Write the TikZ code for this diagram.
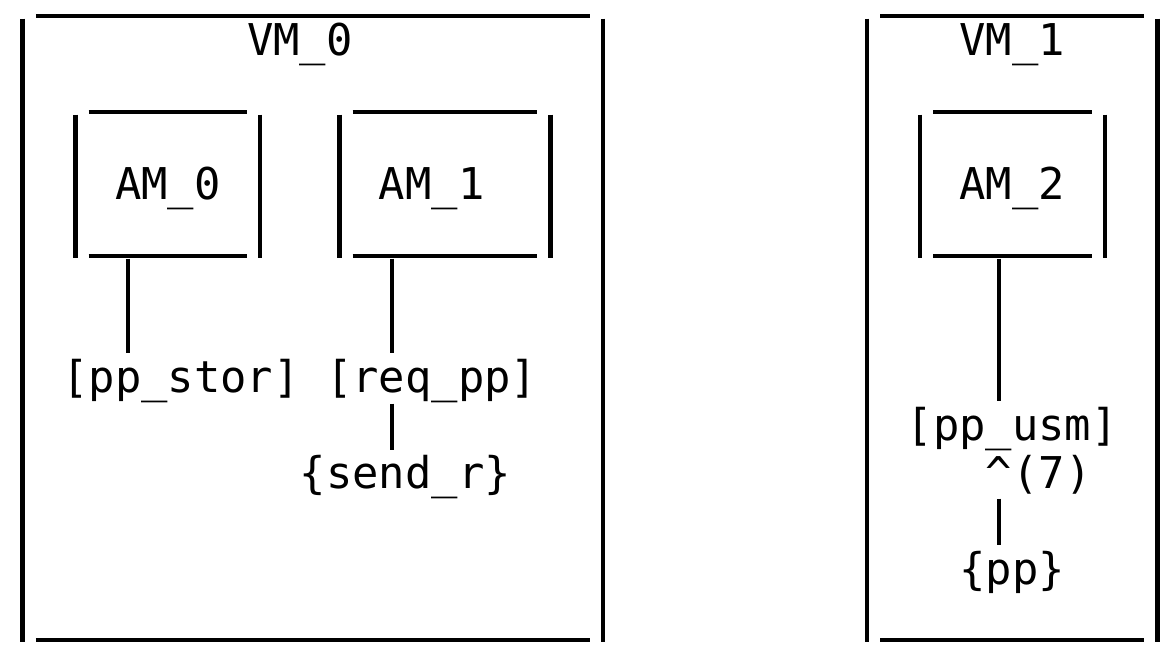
\documentclass[tikz,border=0pt]{standalone}
\usepackage{fontspec}
\newfontfamily\asciifont{DejaVu Sans Mono}
\begin{document}
% Grid: one unit in x is one character cell, one unit in y is one text row.
\begin{tikzpicture}[x=26.39pt, y=-48pt,
  cell/.style={anchor=west, inner sep=0pt, outer sep=0pt,
    font=\asciifont\fontsize{43.8pt}{48pt}\selectfont,
    text height=37.3pt, text depth=10.7pt},
  framebox/.style={rectangle, draw=none, inner sep=0pt, outer sep=0pt},
  hbar/.style={line width=4.2pt, black},
  vbar/.style={line width=4.4pt, black},
  wire/.style={line width=4.2pt, black}]

\useasboundingbox (-22.7pt,18.7pt) rectangle (1146.3pt,-628.3pt);

% ASCII-style frame: name, left column, right column, first row, row after last
\newcommand\asciiframe[5]{%
  \node[framebox, minimum width={(#3-#2)*26.39pt}, minimum height={(#5-#4)*48pt}]
    (#1) at ({(#2+#3)/2},{(#4+#5)/2}) {};
  \draw[hbar] ([shift={(13.2pt,2.9pt)}]#1.north west) -- ([shift={(-13.2pt,2.9pt)}]#1.north east);
  \draw[hbar] ([shift={(13.2pt,2.4pt)}]#1.south west) -- ([shift={(-13.2pt,2.4pt)}]#1.south east);
  \draw[vbar] (#1.north west) -- ([yshift=1.2pt]#1.south west);
  \draw[vbar] (#1.north east) -- ([yshift=1.2pt]#1.south east);
}

% Virtual machines
\asciiframe{vm0}{0}{22}{0}{13}
\asciiframe{vm1}{32}{43}{0}{13}
\node[cell] (vm0label) at (8.5,0.5) {VM\_0};
\node[cell] (vm1label) at (35.5,0.5) {VM\_1};

% Actor modules
\asciiframe{am0}{2}{9}{2}{5}
\asciiframe{am1}{12}{20}{2}{5}
\asciiframe{am2}{34}{41}{2}{5}
\node[cell] (am0label) at (3.5,3.5) {AM\_0};
\node[cell] (am1label) at (13.5,3.5) {AM\_1};
\node[cell] (am2label) at (35.5,3.5) {AM\_2};

% Ports and messages
\node[cell] (ppstor) at (1.5,7.5) {[pp\_stor]};
\node[cell] (reqpp) at (11.5,7.5) {[req\_pp]};
\node[cell] (sendr) at (10.5,9.5) {\{send\_r\}};
\node[cell] (ppusm) at (33.5,8.5) {[pp\_usm]};
\node[cell] (mult) at (36.5,9.5) {\textasciicircum(7)};
\node[cell] (pp) at (35.5,11.5) {\{pp\}};

% Columns of the links
\coordinate (tapA) at (4,0);
\coordinate (tapB) at (14,0);
\coordinate (tapC) at (37,0);

\draw[wire, shorten >=1.4pt] (am0.south -| tapA) -- (ppstor.north -| tapA);
\draw[wire, shorten >=1.4pt] (am1.south -| tapB) -- (reqpp.north -| tapB);
\draw[wire, shorten <=1pt, shorten >=0.7pt] (reqpp.south -| tapB) -- (sendr.north -| tapB);
\draw[wire, shorten >=2pt] (am2.south -| tapC) -- (ppusm.north -| tapC);
\draw[wire, shorten >=1.4pt] (mult.south -| tapC) -- (pp.north -| tapC);
\end{tikzpicture}
\end{document}
